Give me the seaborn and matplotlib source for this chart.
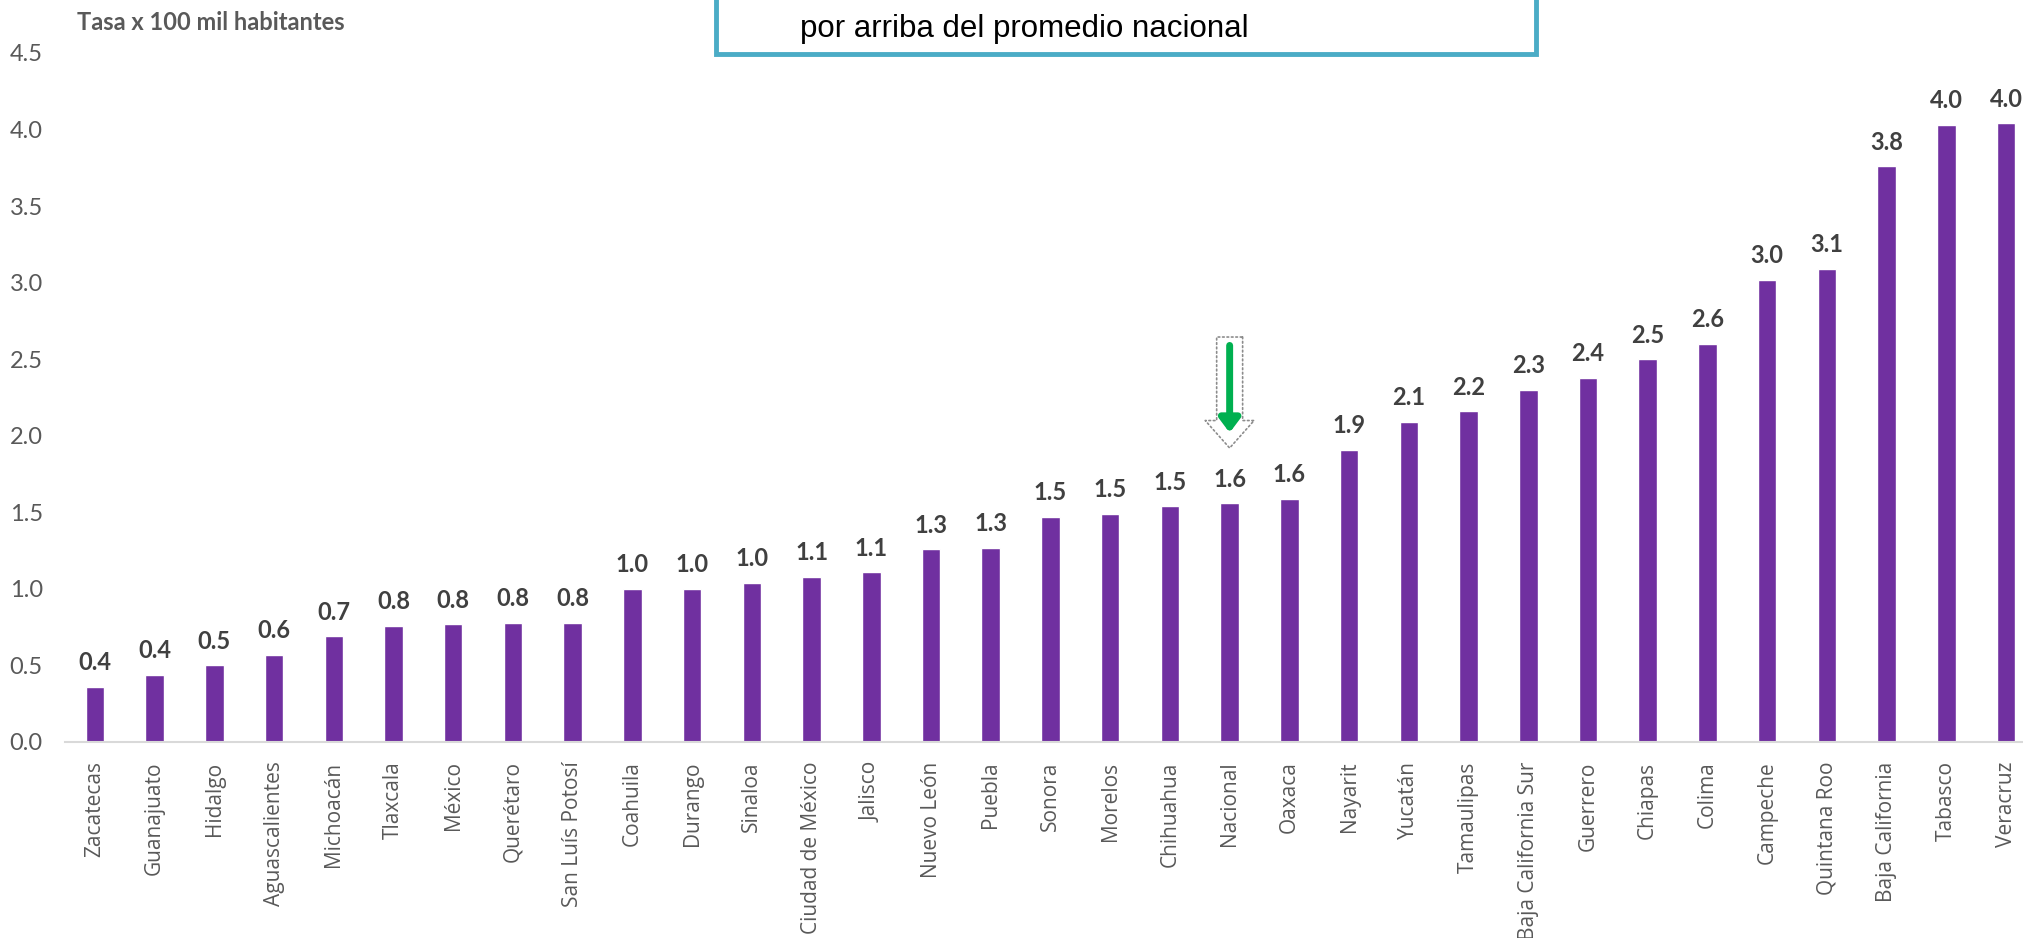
import matplotlib
matplotlib.use("Agg")
import matplotlib.pyplot as plt
import seaborn as sns
import pandas as pd
from matplotlib.patches import FancyBboxPatch

estados = ["Zacatecas", "Guanajuato", "Hidalgo", "Aguascalientes", "Michoacán",
           "Tlaxcala", "México", "Querétaro", "San Luís Potosí", "Coahuila",
           "Durango", "Sinaloa", "Ciudad de México", "Jalisco", "Nuevo León",
           "Puebla", "Sonora", "Morelos", "Chihuahua", "Nacional", "Oaxaca",
           "Nayarit", "Yucatán", "Tamaulipas", "Baja California Sur", "Guerrero",
           "Chiapas", "Colima", "Campeche", "Quintana Roo", "Baja California",
           "Tabasco", "Veracruz"]
tasas = [0.36, 0.44, 0.50, 0.57, 0.69, 0.76, 0.77, 0.78, 0.78, 1.00,
         1.00, 1.04, 1.08, 1.11, 1.26, 1.27, 1.47, 1.49, 1.54, 1.56, 1.59,
         1.91, 2.09, 2.16, 2.30, 2.38, 2.50, 2.60, 3.02, 3.09, 3.76,
         4.03, 4.04]
yticks = [0.0, 0.5, 1.0, 1.5, 2.0, 2.5, 3.0, 3.5, 4.0, 4.5]
ylabel_text = "Tasa x 100 mil habitantes"
box_text = "por arriba del promedio nacional"
ref_label = "Nacional"

df = pd.DataFrame({"estado": estados, "tasa": tasas})

sns.set_style("white")
plt.rcParams["font.family"] = ["Lato", "DejaVu Sans"]

W, H = 2024, 938
fig = plt.figure(figsize=(W / 100, H / 100), dpi=100)
ax = fig.add_axes([65 / W, 1 - 742 / H, (W - 65) / W, (742 - 53) / H])

sns.barplot(data=df, x="estado", y="tasa", color="#7030A0", saturation=1,
            width=0.31, ax=ax)

ax.set_xlim(-0.5, 32.3)
ax.set_ylim(0, 4.5)
ax.set_yticks(yticks)
ax.set_yticklabels([f"{v:.1f}" for v in yticks])
ax.set_xlabel("")
ax.set_ylabel("")
for s in ["top", "right", "left"]:
    ax.spines[s].set_visible(False)
ax.spines["bottom"].set_color("#D9D9D9")
ax.spines["bottom"].set_linewidth(1.5)
ax.tick_params(axis="y", length=0, pad=16, labelsize=17, labelcolor="#595959")
ax.tick_params(axis="x", length=0, pad=14, labelsize=15, labelcolor="#595959",
               labelrotation=90)
for lbl in ax.get_xticklabels():
    lbl.set_family(["Open Sans", "DejaVu Sans"])

for i, v in enumerate(tasas):
    ax.annotate(f"{v:.1f}", xy=(i, v), xytext=(0, 9), textcoords="offset points",
                ha="center", va="bottom", fontsize=17, fontweight="bold",
                color="#404040")

# arrow over the national bar
ni = estados.index(ref_label)
ax.annotate("", xy=(ni, 1.92), xytext=(ni, 2.645),
            arrowprops=dict(arrowstyle="simple,head_length=0.9,head_width=1.6,tail_width=0.85",
                            fc="white", ec="#8C8C8C", lw=1.2, ls=":",
                            mutation_scale=22, shrinkA=0, shrinkB=0))
ax.annotate("", xy=(ni, 2.02), xytext=(ni, 2.59),
            arrowprops=dict(arrowstyle="-|>,head_length=0.4,head_width=0.3",
                            color="#00B050", lw=5, mutation_scale=20,
                            shrinkA=0, shrinkB=0))

fig.text(77 / W, 1 - 22 / H, ylabel_text, fontsize=17, fontweight="bold",
         color="#595959", ha="left", va="center")

# text box at the top
box = FancyBboxPatch((716 / W, 1 - 54 / H), (1536 - 716) / W, 200 / H,
                     boxstyle="square,pad=0", transform=fig.transFigure,
                     fc="white", ec="#4BACC6", lw=3.5, clip_on=False)
fig.patches.append(box)
fig.text(800 / W, 1 - 29 / H, box_text, fontsize=22.5, family="Liberation Sans",
         color="black", ha="left", va="center")

fig.savefig("out.png", dpi=100)
